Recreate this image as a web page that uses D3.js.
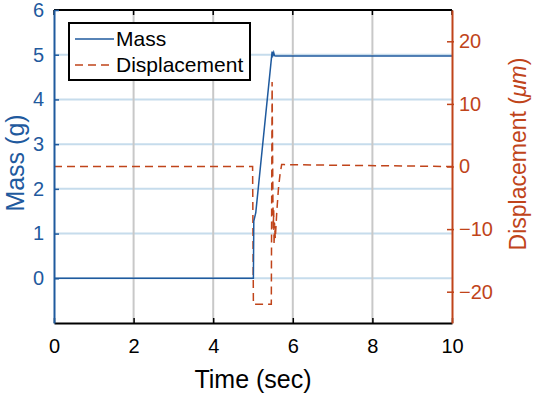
<!DOCTYPE html>
<html>
<head>
<meta charset="utf-8">
<script src="https://cdn.jsdelivr.net/npm/d3@7"></script>
<style>
  body { margin: 0; background: #fff; }
  svg { font-family: "Liberation Sans", Arial, sans-serif; }
</style>
</head>
<body>
<div id="chart"></div>
<script>
const width = 534;
const height = 395;

// time (sec), mass (g)
const massTime = [0, 5.0, 5.01, 5.02, 5.07, 5.48, 5.5, 5.52, 5.54, 5.57, 10];
const massValue = [0, 0, 0, 1.28, 1.47, 5.07, 4.99, 5.05, 4.98, 4.97, 4.97];

// time (sec), displacement (um)
const dispTime = [0, 4.99, 5.0, 5.01, 5.46, 5.48, 5.5, 5.51, 5.52, 5.53, 5.54, 5.56, 5.6, 5.64, 5.68, 5.72, 5.78, 10];
const dispValue = [0, 0, -11, -22, -22, 13.5, -5, -10, -7, -12.5, -9, -11.5, -7, -3.5, -1.2, 0.3, 0.3, 0];

const xTicks = [0, 2, 4, 6, 8, 10];
const massTicks = [0, 1, 2, 3, 4, 5, 6];
const dispTicks = [-20, -10, 0, 10, 20];

const blue = "#1f5a9e";
const red = "#c0441a";

const plotLeft = 54, plotRight = 452, plotTop = 10, plotBottom = 323;

const x = d3.scaleLinear().domain([0, 10]).range([plotLeft, plotRight]);
const yMass = d3.scaleLinear().domain([-1, 6]).range([plotBottom, plotTop]);
const yDisp = d3.scaleLinear().domain([-25, 25]).range([plotBottom, plotTop]);

const svg = d3
  .select("#chart")
  .append("svg")
  .attr("width", width)
  .attr("height", height);

// grid lines
svg
  .selectAll(".hgrid")
  .data(massTicks.filter((d) => d > -1 && d < 6))
  .enter()
  .append("line")
  .attr("x1", plotLeft)
  .attr("x2", plotRight)
  .attr("y1", (d) => yMass(d))
  .attr("y2", (d) => yMass(d))
  .attr("stroke", "#c6dcec")
  .attr("stroke-width", 2);

svg
  .selectAll(".vgrid")
  .data(xTicks.filter((d) => d > 0 && d < 10))
  .enter()
  .append("line")
  .attr("x1", (d) => x(d))
  .attr("x2", (d) => x(d))
  .attr("y1", plotTop)
  .attr("y2", plotBottom)
  .attr("stroke", "#c8c8c8")
  .attr("stroke-width", 2);

// data
const massData = massTime.map((t, i) => [t, massValue[i]]);
const dispData = dispTime.map((t, i) => [t, dispValue[i]]);

svg
  .append("path")
  .datum(dispData)
  .attr("fill", "none")
  .attr("stroke", red)
  .attr("stroke-width", 1.5)
  .attr("stroke-dasharray", "8,5")
  .attr("d", d3.line().x((d) => x(d[0])).y((d) => yDisp(d[1])));

svg
  .append("path")
  .datum(massData)
  .attr("fill", "none")
  .attr("stroke", blue)
  .attr("stroke-width", 1.5)
  .attr("d", d3.line().x((d) => x(d[0])).y((d) => yMass(d[1])));

// box top
svg.append("line").attr("x1", plotLeft).attr("x2", plotRight).attr("y1", plotTop).attr("y2", plotTop)
  .attr("stroke", "#000").attr("stroke-width", 2);

const xAxis = svg
  .append("g")
  .attr("transform", "translate(0," + plotBottom + ")")
  .call(d3.axisBottom(x).tickValues(xTicks).tickFormat(d3.format("d")).tickSizeInner(-5).tickSizeOuter(0).tickPadding(16));
xAxis.select(".domain").attr("stroke", "#000").attr("stroke-width", 2);
xAxis.selectAll(".tick line").attr("stroke", "#000").attr("stroke-width", 1.5);
xAxis.selectAll("text").attr("font-size", 20).attr("fill", "#000").attr("font-family", "Liberation Sans, Arial, sans-serif");

// top ticks
svg
  .selectAll(".topTick")
  .data(xTicks)
  .enter()
  .append("line")
  .attr("x1", (d) => x(d))
  .attr("x2", (d) => x(d))
  .attr("y1", plotTop)
  .attr("y2", plotTop + 5)
  .attr("stroke", "#000")
  .attr("stroke-width", 1.5);

const leftAxis = svg
  .append("g")
  .attr("transform", "translate(" + plotLeft + ",0)")
  .call(d3.axisLeft(yMass).tickValues(massTicks).tickFormat(d3.format("d")).tickSizeInner(-5).tickSizeOuter(0).tickPadding(10));
leftAxis.select(".domain").attr("stroke", blue).attr("stroke-width", 2);
leftAxis.selectAll(".tick line").attr("stroke", blue).attr("stroke-width", 1.5);
leftAxis.selectAll("text").attr("font-size", 20).attr("fill", blue).attr("font-family", "Liberation Sans, Arial, sans-serif");

const rightAxis = svg
  .append("g")
  .attr("transform", "translate(" + plotRight + ",0)")
  .call(d3.axisRight(yDisp).tickValues(dispTicks).tickFormat(d3.format("d")).tickSizeInner(5).tickSizeOuter(0).tickPadding(2));
rightAxis.select(".domain").attr("stroke", red).attr("stroke-width", 2);
rightAxis.selectAll(".tick line").attr("stroke", red).attr("stroke-width", 1.5).attr("x1", -5).attr("x2", 2);
rightAxis.selectAll("text").attr("font-size", 20).attr("fill", red).attr("font-family", "Liberation Sans, Arial, sans-serif");

// axis labels
svg
  .append("text")
  .attr("x", x(5))
  .attr("y", 388)
  .attr("text-anchor", "middle")
  .attr("font-size", 25)
  .attr("fill", "#000")
  .text("Time (sec)");

svg
  .append("text")
  .attr("transform", "translate(24,163) rotate(-90)")
  .attr("text-anchor", "middle")
  .attr("font-size", 25)
  .attr("fill", blue)
  .text("Mass (g)");

const rLabel = svg
  .append("text")
  .attr("transform", "translate(526,154) rotate(-90)")
  .attr("text-anchor", "middle")
  .attr("font-size", 23)
  .attr("fill", red);
rLabel.append("tspan").text("Displacement (");
rLabel.append("tspan").attr("font-style", "italic").text("\u03bcm");
rLabel.append("tspan").text(")");

// legend
const legend = svg.append("g").attr("transform", "translate(69,23)");
legend
  .append("rect")
  .attr("width", 181)
  .attr("height", 57)
  .attr("fill", "#fff")
  .attr("stroke", "#000")
  .attr("stroke-width", 2);

const legendItems = [
  { name: "Mass", color: blue, dash: null },
  { name: "Displacement", color: red, dash: "8,5" },
];
legendItems.forEach((item, i) => {
  const yy = 16 + i * 26;
  legend
    .append("line")
    .attr("x1", 6)
    .attr("x2", 45)
    .attr("y1", yy)
    .attr("y2", yy)
    .attr("stroke", item.color)
    .attr("stroke-width", 1.5)
    .attr("stroke-dasharray", item.dash);
  legend
    .append("text")
    .attr("x", 47)
    .attr("y", yy + 7)
    .attr("font-size", 21)
    .attr("fill", "#000")
    .text(item.name);
});
</script>
</body>
</html>
